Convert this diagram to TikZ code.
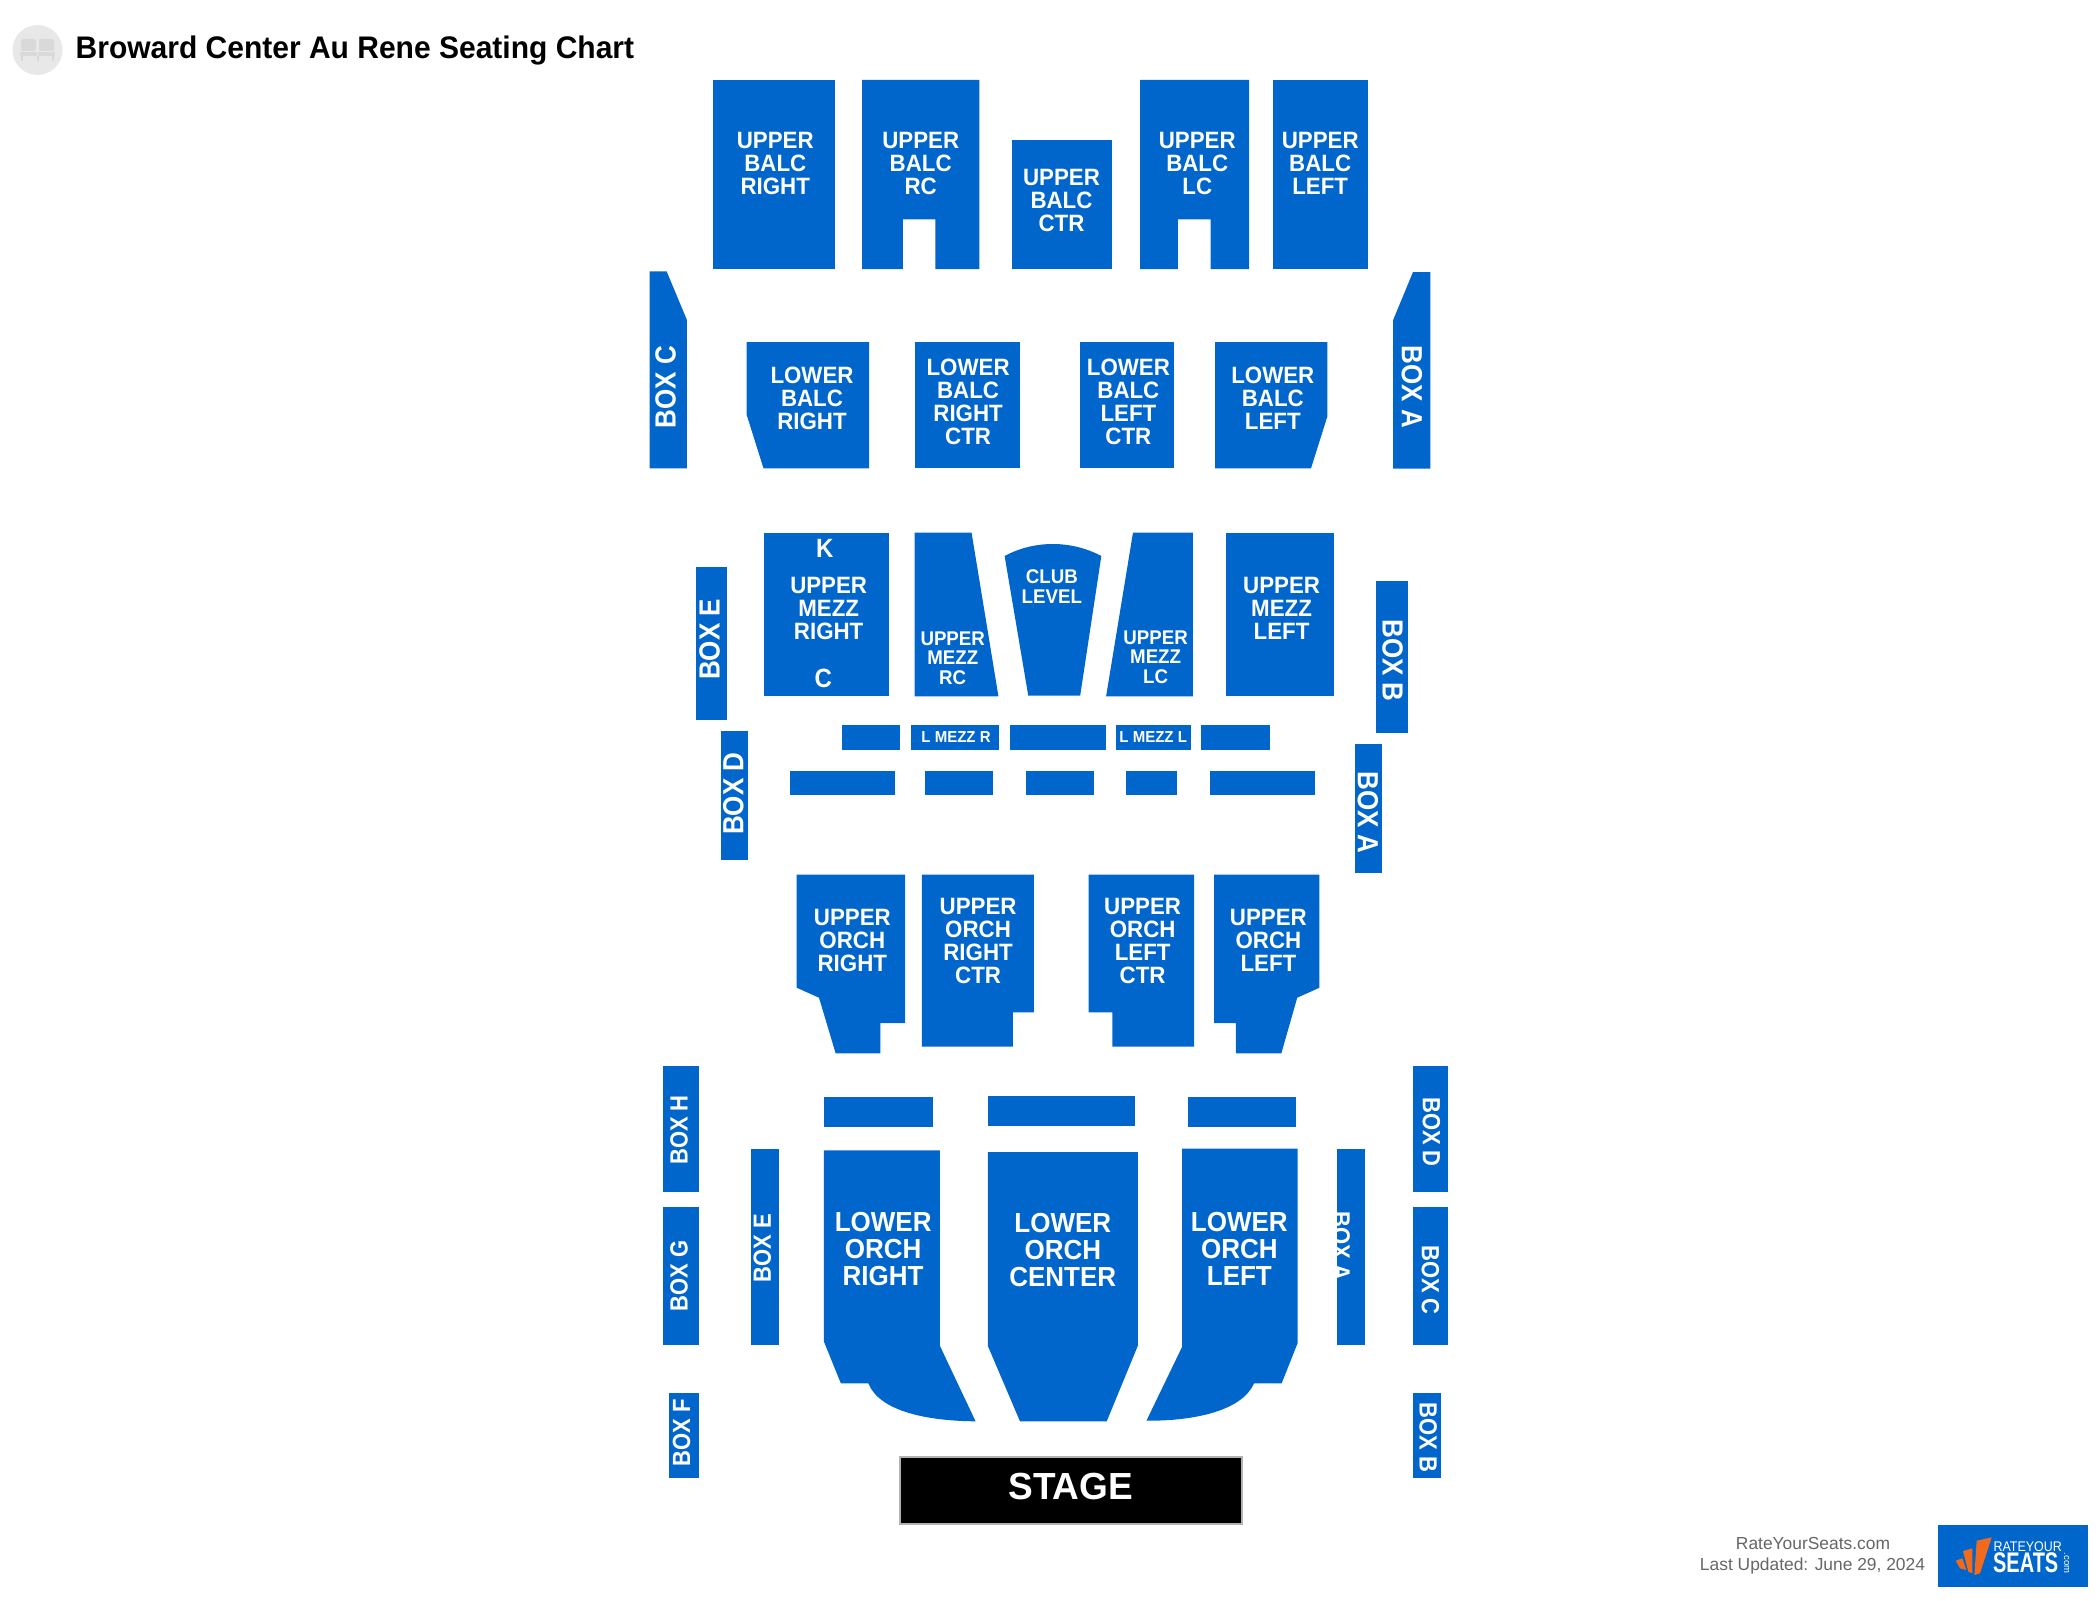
\documentclass[tikz,border=0pt]{standalone}
\usepackage{fontspec}
\setmainfont{Liberation Sans}
\definecolor{seatblue}{HTML}{0066CC}
\definecolor{logoorange}{HTML}{F26A1B}
\tikzset{
  sec/.style={fill=seatblue,draw=none},
  lblbase/.style={text=white,align=center,inner sep=0pt,outer sep=0pt},
  lblA/.style={lblbase,font=\fontsize{22.3}{21.7}\selectfont\bfseries,yscale=1.06},
  lblB/.style={lblbase,font=\fontsize{18.7}{18.4}\selectfont\bfseries,yscale=1.06},
  lblC/.style={lblbase,font=\fontsize{26}{25.5}\selectfont\bfseries,yscale=1.06},
  lblS/.style={lblbase,font=\fontsize{15}{15}\selectfont\bfseries,yscale=1.06},
  lblR/.style={lblbase,font=\fontsize{24}{24}\selectfont\bfseries,yscale=1.1},
  boxU/.style={lblbase,font=\fontsize{26}{26}\selectfont\bfseries,rotate=90,yscale=1.12},
  boxD/.style={lblbase,font=\fontsize{26}{26}\selectfont\bfseries,rotate=-90,yscale=1.12},
  boxUs/.style={lblbase,font=\fontsize{22}{22}\selectfont\bfseries,rotate=90,yscale=1.13},
  boxDs/.style={lblbase,font=\fontsize{22}{22}\selectfont\bfseries,rotate=-90,yscale=1.13},
  seaticon/.style={fill=black!15,draw=none},
}
\begin{document}
\begin{tikzpicture}[x=1pt,y=-1pt]
\useasboundingbox (0,0) rectangle (2100,1600);
% header
\fill[black!9] (37.5,50) circle (25);
\fill[seaticon,rounded corners=2pt] (21,39) rectangle (36,51);
\fill[seaticon,rounded corners=2pt] (39,39) rectangle (54,51);
\fill[seaticon] (20,52) rectangle (37,56);
\fill[seaticon] (38,52) rectangle (55,56);
\fill[seaticon] (21,56) rectangle (23,61);
\fill[seaticon] (36.5,56) rectangle (38.5,61);
\fill[seaticon] (52,56) rectangle (54,61);
\node[anchor=base west,inner sep=0pt,yscale=1.04,font=\fontsize{30}{32}\selectfont\bfseries] (title) at (75.5,59) {Broward Center Au Rene Seating Chart};
\begin{scope}[shift={(1.32,0)},xscale=0.998]
% upper balcony
\fill[sec] (712.6,80) rectangle (835.8,269);
\fill[sec] (862.4,80) -- (980,80) -- (980,269) -- (936,269) -- (936,219.3) -- (903.3,219.3) -- (903.3,269) -- (862.4,269) -- cycle;
\fill[sec] (1012.2,140) rectangle (1112.9,269);
\fill[sec] (1141,80) -- (1250.4,80) -- (1250.4,269) -- (1211.6,269) -- (1211.6,219.3) -- (1178.8,219.3) -- (1178.8,269) -- (1141,269) -- cycle;
\fill[sec] (1274,80) rectangle (1369,269);
\node[lblA] (ubr) at (775.5,163.7) {UPPER\\BALC\\RIGHT};
\node[lblA] (ubrc) at (921.2,163.7) {UPPER\\BALC\\RC};
\node[lblA] (ubc) at (1062.3,200) {UPPER\\BALC\\CTR};
\node[lblA] (ublc) at (1198.3,163.7) {UPPER\\BALC\\LC};
\node[lblA] (ubl) at (1321.5,163.7) {UPPER\\BALC\\LEFT};
% balcony boxes
\fill[sec] (649.7,271.3) -- (666.6,271.3) -- (687,320) -- (687,468.3) -- (649.7,468.3) -- cycle;
\fill[sec] (1414.5,272) -- (1432,272) -- (1432,468.7) -- (1394.6,468.7) -- (1394.6,320) -- cycle;
\node[boxU] (boxc1) at (665.6,387.2) {BOX C};
\node[boxD] (boxa1) at (1413.5,387) {BOX A};
% lower balcony
\fill[sec] (746.9,342) -- (869.5,342) -- (869.5,468.3) -- (763.7,468.3) -- (746.9,415) -- cycle;
\fill[sec] (915.6,342) rectangle (1020.4,468.3);
\fill[sec] (1080.7,342) rectangle (1175.3,468.3);
\fill[sec] (1216.2,342) -- (1328.6,342) -- (1328.6,416.7) -- (1312.3,468.3) -- (1216.2,468.3) -- cycle;
\node[lblA] (lbr) at (812.3,398) {LOWER\\BALC\\RIGHT};
\node[lblA] (lbrc) at (968.7,402.2) {LOWER\\BALC\\RIGHT\\CTR};
\node[lblA] (lblc) at (1129.3,402.2) {LOWER\\BALC\\LEFT\\CTR};
\node[lblA] (lbl) at (1274,398) {LOWER\\BALC\\LEFT};
% upper mezz
\fill[sec] (764.2,533.3) rectangle (889.5,696);
\fill[sec] (915,532.7) -- (972.2,532.7) -- (999.1,696.3) -- (915,696.3) -- cycle;
\fill[sec] (1005.3,556) .. controls (1035,540) and (1072,540) .. (1102.2,556) -- (1081,695.7) -- (1029,695.7) -- cycle;
\fill[sec] (1133.9,532.7) -- (1194,532.7) -- (1194,696.3) -- (1107,696.3) -- cycle;
\fill[sec] (1227.5,533.3) rectangle (1335.3,696);
\node[lblR] (rowk) at (825.2,548.3) {K};
\node[lblR] (rowc) at (823.7,678.3) {C};
\node[lblA] (umr) at (829,608) {UPPER\\MEZZ\\RIGHT};
\node[lblB] (umrc) at (953.3,657.8) {UPPER\\MEZZ\\RC};
\node[lblB] (club) at (1052.6,586.7) {CLUB\\LEVEL};
\node[lblB] (umlc) at (1156.6,657) {UPPER\\MEZZ\\LC};
\node[lblA] (uml) at (1282.8,608) {UPPER\\MEZZ\\LEFT};
% mezz boxes
\fill[sec] (696,567.3) rectangle (727.3,720);
\fill[sec] (1377.9,581.3) rectangle (1409,732.7);
\fill[sec] (721.6,731.3) rectangle (748.6,860);
\fill[sec] (1356,744.3) rectangle (1383,873.3);
\node[boxU] (boxe1) at (709.8,639.5) {BOX E};
\node[boxD] (boxb1) at (1394,660.5) {BOX B};
\node[boxU] (boxd1) at (733.4,793.8) {BOX D};
\node[boxD] (boxa2) at (1369.4,812.5) {BOX A};
% lower mezz rows
\fill[sec] (842.2,725.3) rectangle (900.8,750.3);
\fill[sec] (911.2,725.3) rectangle (1000,750.3);
\fill[sec] (1010.5,725.3) rectangle (1106.5,750.3);
\fill[sec] (1116.4,725.3) rectangle (1192,750.3);
\fill[sec] (1202,725.3) rectangle (1271,750.3);
\fill[sec] (790.2,771.3) rectangle (895.6,795);
\fill[sec] (925.9,771.3) rectangle (993.5,795);
\fill[sec] (1027,771.3) rectangle (1094.7,795);
\fill[sec] (1126.8,771.3) rectangle (1177.9,795);
\fill[sec] (1211,771.3) rectangle (1316.4,795);
\node[lblS] (lmr) at (956.6,737) {L MEZZ R};
\node[lblS] (lml) at (1154.2,737) {L MEZZ L};
% upper orchestra
\fill[sec] (797,874.7) -- (905.7,874.7) -- (905.7,1023) -- (880.8,1023) -- (880.8,1053.3) -- (836,1053.3) -- (819.3,997.7) -- (797,987.7) -- cycle;
\fill[sec] (922.3,874.7) -- (1034.6,874.7) -- (1034.6,1012.3) -- (1013.5,1012.3) -- (1013.5,1046.7) -- (922.3,1046.7) -- cycle;
\fill[sec] (1089.5,874.7) -- (1195.1,874.7) -- (1195.1,1046.7) -- (1113.2,1046.7) -- (1113.2,1012.3) -- (1089.5,1012.3) -- cycle;
\fill[sec] (1215.2,874.7) -- (1320.8,874.7) -- (1320.8,987.7) -- (1298.5,997.7) -- (1282.6,1053.3) -- (1237,1053.3) -- (1237,1023) -- (1215.2,1023) -- cycle;
\node[lblA] (uor) at (852.7,940) {UPPER\\ORCH\\RIGHT};
\node[lblA] (uorc) at (978.7,941.3) {UPPER\\ORCH\\RIGHT\\CTR};
\node[lblA] (uolc) at (1143.6,941.3) {UPPER\\ORCH\\LEFT\\CTR};
\node[lblA] (uol) at (1269.6,940) {UPPER\\ORCH\\LEFT};
% lower orchestra rows
\fill[sec] (824.8,1097) rectangle (933.7,1127);
\fill[sec] (988.4,1096) rectangle (1136.2,1126.3);
\fill[sec] (1188.9,1097) rectangle (1297.2,1127);
% lower orchestra
\fill[sec] (824.3,1150.3) -- (940.4,1150.3) -- (940.4,1345.7) -- (976.2,1421.3) .. controls (930,1421) and (880,1412) .. (868.8,1383.3) -- (841.2,1383.3) -- (824.3,1341.7) -- cycle;
\fill[sec] (988.4,1152) -- (1138.8,1152) -- (1138.8,1345.7) -- (1107.6,1421.3) -- (1020.7,1421.3) -- (988.4,1345.7) -- cycle;
\fill[sec] (1183.2,1148.7) -- (1298.8,1148.7) -- (1298.8,1343.3) -- (1282.9,1383.3) -- (1255.3,1383.3) .. controls (1243,1411) and (1195,1421) .. (1147.4,1420.7) -- (1183.2,1346.7) -- cycle;
\node[lblC] (lor) at (883.6,1249) {LOWER\\ORCH\\RIGHT};
\node[lblC] (loc) at (1063.6,1250) {LOWER\\ORCH\\CENTER};
\node[lblC] (lol) at (1240.5,1249) {LOWER\\ORCH\\LEFT};
% orchestra boxes
\fill[sec] (662.8,1065.7) rectangle (698.6,1192.3);
\fill[sec] (662.8,1207) rectangle (698.6,1345.3);
\fill[sec] (669,1392.7) rectangle (698.6,1478);
\fill[sec] (750.7,1149.3) rectangle (778.8,1345.3);
\fill[sec] (1338.7,1149) rectangle (1366.3,1345);
\fill[sec] (1414.3,1065.7) rectangle (1450,1192.3);
\fill[sec] (1414.3,1207) rectangle (1450,1345.3);
\fill[sec] (1414.3,1392.7) rectangle (1443,1478);
\node[boxUs] (boxh) at (679,1130) {BOX H};
\node[boxUs] (boxg) at (679,1276) {BOX G};
\node[boxUs] (boxf) at (681.7,1433) {BOX F};
\node[boxUs] (boxe2) at (762.5,1247.8) {BOX E};
\node[boxDs] (boxa3) at (1342.5,1246) {BOX A};
\node[boxDs] (boxd2) at (1433,1132) {BOX D};
\node[boxDs] (boxc2) at (1432,1280) {BOX C};
\node[boxDs] (boxb2) at (1429.7,1437.8) {BOX B};
% stage
\fill[black,draw=black!30,line width=2pt] (900.5,1457.3) rectangle (1243,1523.7);
\node[lblbase,font=\fontsize{37}{37}\selectfont\bfseries,yscale=1.02] (stage) at (1071.5,1486.3) {STAGE};
\end{scope}
% footer
\node[anchor=base,inner sep=0pt,text=black!60,font=\fontsize{17.4}{18}\selectfont] (site) at (1813,1549.3) {RateYourSeats.com};
\node[anchor=base,inner sep=0pt,text=black!60,font=\fontsize{17.4}{18}\selectfont] (upd) at (1812.5,1570) {Last Updated: June 29, 2024};
\fill[sec] (1937.7,1525) rectangle (2087.7,1587.3);
\fill[logoorange] (1955.7,1560.7) -- (1962.3,1558.3) -- (1966.3,1570) -- (1960,1568.3) -- cycle;
\fill[logoorange] (1963,1551) -- (1972.3,1548.3) -- (1972.3,1573.3) -- (1968.3,1571.7) -- cycle;
\fill[logoorange] (1976.7,1540.7) -- (1991.7,1537.3) -- (1980,1573.3) -- (1974.3,1575) -- cycle;
\node[lblbase,font=\fontsize{14}{14}\selectfont,xscale=0.89] (logoa) at (2027.7,1546.3) {RATEYOUR};
\node[lblbase,font=\fontsize{27}{27}\selectfont\bfseries,xscale=0.74,yscale=1.05] (logob) at (2025.7,1563) {SEATS};
\node[lblbase,font=\fontsize{9.5}{9.5}\selectfont,rotate=-90] (logoc) at (2066.5,1563) {.com};
\end{tikzpicture}
\end{document}
